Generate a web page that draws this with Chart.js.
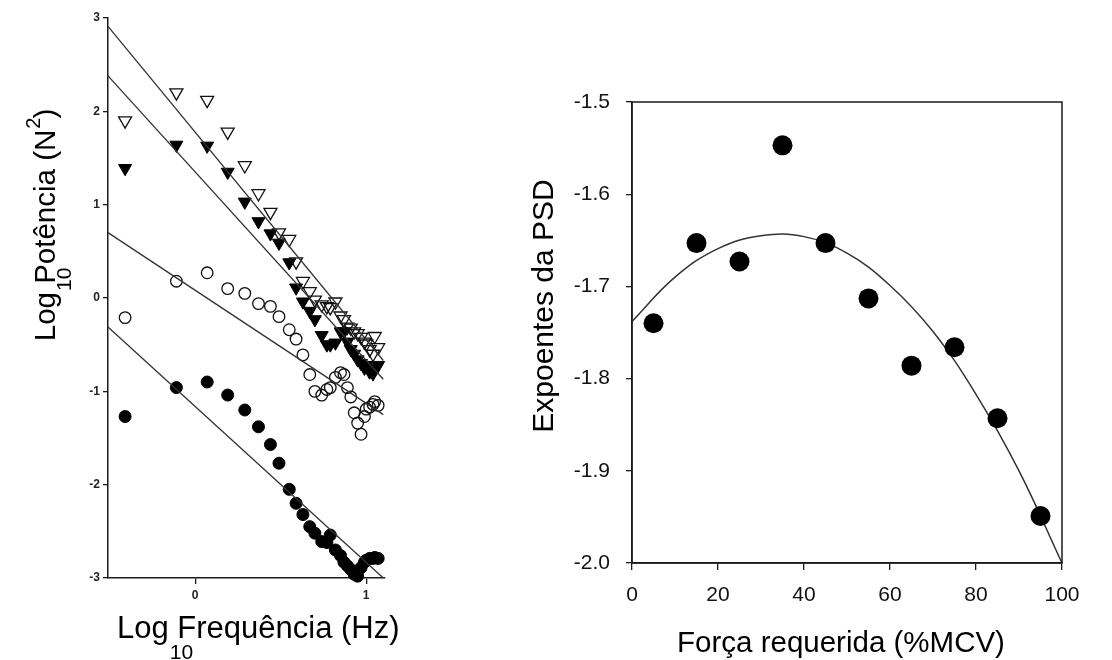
<!DOCTYPE html>
<html>
<head>
<meta charset="utf-8">
<script src="https://cdn.jsdelivr.net/npm/chart.js@4"></script>
<style>
  body { margin: 0; background: #fff; }
  #wrap { position: relative; width: 1112px; height: 660px; }
  canvas { position: absolute; top: 0; }
</style>
</head>
<body>
<div id="wrap">
  <canvas id="esquerda" width="420" height="660" style="left:0;width:420px;height:660px"></canvas>
  <canvas id="direita" width="672" height="660" style="left:440px;width:672px;height:660px"></canvas>
</div>
<script>
// ===============================
// Dados - painel esquerdo (espectros log-log)
// ===============================
const logFreq = [-0.41, -0.11, 0.07, 0.19, 0.29, 0.37, 0.44, 0.49, 0.55, 0.59,
  0.63, 0.67, 0.70, 0.74, 0.77, 0.79, 0.82, 0.85, 0.87, 0.89,
  0.91, 0.93, 0.95, 0.97, 0.99, 1.00, 1.02, 1.04, 1.05, 1.07];

const trianguloAberto = [1.90, 2.20, 2.12, 1.78, 1.42, 1.12, 0.92, 0.70, 0.63, 0.39,
  0.18, 0.07, -0.02, -0.07, -0.09, -0.10, -0.04, -0.19, -0.23, -0.31,
  -0.32, -0.36, -0.38, -0.42, -0.47, -0.49, -0.55, -0.60, -0.41, -0.53];

const trianguloCheio = [1.39, 1.64, 1.63, 1.35, 1.03, 0.82, 0.69, 0.59, 0.38, 0.11,
  -0.04, -0.14, -0.23, -0.40, -0.50, -0.50, -0.48, -0.36, -0.36, -0.47,
  -0.55, -0.60, -0.66, -0.70, -0.75, -0.72, -0.79, -0.81, -0.75, -0.72];

const circuloAberto = [-0.21, 0.18, 0.27, 0.10, 0.05, -0.06, -0.09, -0.20, -0.34, -0.44,
  -0.61, -0.82, -1.00, -1.04, -0.98, -0.96, -0.85, -0.80, -0.82, -0.96,
  -1.06, -1.23, -1.34, -1.46, -1.27, -1.19, -1.17, -1.14, -1.11, -1.15];

const circuloCheio = [-1.27, -0.96, -0.90, -1.04, -1.20, -1.38, -1.57, -1.77, -2.05, -2.20,
  -2.32, -2.45, -2.52, -2.61, -2.62, -2.54, -2.70, -2.76, -2.83, -2.87,
  -2.91, -2.96, -2.98, -2.89, -2.83, -2.81, -2.79, -2.79, -2.78, -2.79];

// retas de regressão (extremos)
const retaX = [-0.51, 1.10];
const retaTriAberto = [2.91, -0.67];
const retaTriCheio = [2.38, -0.87];
const retaCircAberto = [0.70, -1.25];
const retaCircCheio = [-0.31, -3.00];

const ticksXEsq = [0, 1];
const ticksYEsq = [-3, -2, -1, 0, 1, 2, 3];

// ===============================
// Dados - painel direito (expoentes da PSD)
// ===============================
const forca = [5, 15, 25, 35, 45, 55, 65, 75, 85, 95];
const expoentes = [-1.740, -1.653, -1.673, -1.547, -1.653, -1.713, -1.786, -1.766, -1.843, -1.949];

const curvaX = [0, 10, 20, 30, 40, 50, 60, 70, 80, 90, 100];
const curvaY = [-1.738, -1.690, -1.659, -1.645, -1.646, -1.664, -1.699, -1.749, -1.817, -1.900, -2.000];

const ticksXDir = [0, 20, 40, 60, 80, 100];
const ticksYDir = [-2.0, -1.9, -1.8, -1.7, -1.6, -1.5];

const FONTE = '"Liberation Sans", Arial, Helvetica, sans-serif';
const TINTA = '#1a1a1a';

function pares(xs, ys) {
  return xs.map((x, i) => ({ x: x, y: ys[i] }));
}

// desenha um rótulo com partes (índices/expoentes)
function desenhaRotulo(ctx, partes, x, y, girar, alinhar) {
  ctx.save();
  ctx.translate(x, y);
  if (girar) ctx.rotate(-Math.PI / 2);
  ctx.fillStyle = '#000';
  ctx.textBaseline = 'alphabetic';
  ctx.textAlign = 'left';
  let total = 0;
  partes.forEach((p) => {
    ctx.font = p.size + 'px ' + FONTE;
    p.w = ctx.measureText(p.t).width;
    if (p.adv !== false) total += p.w;
  });
  let cx = alinhar === 'center' ? -total / 2 : 0;
  partes.forEach((p) => {
    ctx.font = p.size + 'px ' + FONTE;
    ctx.fillText(p.t, cx + (p.dx || 0), p.dy || 0);
    if (p.adv !== false) cx += p.w;
  });
  ctx.restore();
}

const rotulosEsq = {
  id: 'rotulosEsq',
  afterDraw(chart) {
    const ctx = chart.ctx;
    desenhaRotulo(ctx, [
      { t: 'Log', size: 29.5 },
      { t: '10', size: 21, dy: 16, dx: 1, adv: false },
      { t: ' Potência (N', size: 29.5 },
      { t: '2', size: 20, dy: -15, dx: 1 },
      { t: ')', size: 29.5 }
    ], 55, 225, true, 'center');
    desenhaRotulo(ctx, [
      { t: 'Log', size: 31 },
      { t: '10', size: 21, dy: 21, dx: 1, adv: false },
      { t: ' Frequência (Hz)', size: 31 }
    ], 117, 638, false, 'left');
  }
};

const rotulosDir = {
  id: 'rotulosDir',
  afterDraw(chart) {
    const ctx = chart.ctx;
    const a = chart.chartArea;
    ctx.save();
    ctx.strokeStyle = TINTA;
    ctx.lineWidth = 1.5;
    ctx.strokeRect(a.left, a.top, a.right - a.left, a.bottom - a.top);
    ctx.restore();
    desenhaRotulo(ctx, [{ t: 'Força requerida (%MCV)', size: 29.5 }], 401, 652, false, 'center');
    desenhaRotulo(ctx, [{ t: 'Expoentes da PSD', size: 30 }], 113, 306, true, 'center');
  }
};

function eixo(opcoes) {
  return Object.assign({
    type: 'linear',
    grid: { drawOnChartArea: false, drawTicks: true, color: TINTA, lineWidth: 1.3 },
    border: { display: true, color: TINTA, width: 1.5 }
  }, opcoes);
}

function reta(ys) {
  return {
    data: pares(retaX, ys),
    showLine: true,
    pointRadius: 0,
    borderColor: '#333',
    borderWidth: 1.3,
    clip: false
  };
}

// ===============================
// Painel esquerdo
// ===============================
new Chart(document.getElementById('esquerda'), {
  type: 'scatter',
  data: {
    datasets: [
      reta(retaTriAberto),
      reta(retaTriCheio),
      reta(retaCircAberto),
      reta(retaCircCheio),
      {
        data: pares(logFreq, trianguloAberto),
        pointStyle: 'triangle', rotation: 180, radius: 7.5,
        borderColor: '#111', backgroundColor: 'rgba(0,0,0,0)', borderWidth: 1.3, clip: false
      },
      {
        data: pares(logFreq, trianguloCheio),
        pointStyle: 'triangle', rotation: 180, radius: 7.5,
        borderColor: '#000', backgroundColor: '#000', borderWidth: 1, clip: false
      },
      {
        data: pares(logFreq, circuloAberto),
        pointStyle: 'circle', radius: 5.8,
        borderColor: '#111', backgroundColor: 'rgba(0,0,0,0)', borderWidth: 1.3, clip: false
      },
      {
        data: pares(logFreq, circuloCheio),
        pointStyle: 'circle', radius: 6,
        borderColor: '#000', backgroundColor: '#000', borderWidth: 1, clip: false
      }
    ]
  },
  options: {
    responsive: false,
    animation: false,
    events: [],
    layout: { padding: { left: 0, right: 35, top: 18, bottom: 0 } },
    plugins: { legend: { display: false }, tooltip: { enabled: false } },
    scales: {
      x: eixo({
        min: -0.51, max: 1.11,
        afterBuildTicks: (s) => { s.ticks = ticksXEsq.map((v) => ({ value: v })); },
        afterFit: (s) => { s.height = 82; },
        grid: { drawOnChartArea: false, drawTicks: true, tickLength: 6, color: TINTA, lineWidth: 1.3 },
        ticks: { color: '#222', padding: 4, maxRotation: 0, font: { family: FONTE, size: 12, weight: 'bold' } }
      }),
      y: eixo({
        min: -3, max: 3,
        afterBuildTicks: (s) => { s.ticks = ticksYEsq.map((v) => ({ value: v })); },
        afterFit: (s) => { s.width = 108; },
        grid: { drawOnChartArea: false, drawTicks: true, tickLength: 5, color: TINTA, lineWidth: 1.3 },
        ticks: { color: '#222', padding: 3, font: { family: FONTE, size: 12, weight: 'bold' } }
      })
    }
  },
  plugins: [rotulosEsq]
});

// ===============================
// Painel direito
// ===============================
new Chart(document.getElementById('direita'), {
  type: 'scatter',
  data: {
    datasets: [
      {
        data: pares(forca, expoentes),
        pointStyle: 'circle', radius: 10,
        borderColor: '#000', backgroundColor: '#000', borderWidth: 0, clip: false
      },
      {
        data: pares(curvaX, curvaY),
        showLine: true, tension: 0.4, pointRadius: 0,
        borderColor: '#333', borderWidth: 1.5, clip: false
      }
    ]
  },
  options: {
    responsive: false,
    animation: false,
    events: [],
    layout: { padding: { left: 0, right: 50, top: 102, bottom: 0 } },
    plugins: { legend: { display: false }, tooltip: { enabled: false } },
    scales: {
      x: eixo({
        min: 0, max: 100,
        afterBuildTicks: (s) => { s.ticks = ticksXDir.map((v) => ({ value: v })); },
        afterFit: (s) => { s.height = 97; },
        grid: { drawOnChartArea: false, drawTicks: true, tickLength: 7, color: TINTA, lineWidth: 1.3 },
        ticks: { color: '#111', padding: 13, maxRotation: 0, font: { family: FONTE, size: 21 } }
      }),
      y: eixo({
        min: -2.0, max: -1.5,
        afterBuildTicks: (s) => { s.ticks = ticksYDir.map((v) => ({ value: v })); },
        afterFit: (s) => { s.width = 192; },
        grid: { drawOnChartArea: false, drawTicks: true, tickLength: 6, color: TINTA, lineWidth: 1.3 },
        ticks: {
          color: '#111', padding: 16, font: { family: FONTE, size: 21 },
          callback: (v) => Number(v).toFixed(1)
        }
      })
    }
  },
  plugins: [rotulosDir]
});
</script>
</body>
</html>
